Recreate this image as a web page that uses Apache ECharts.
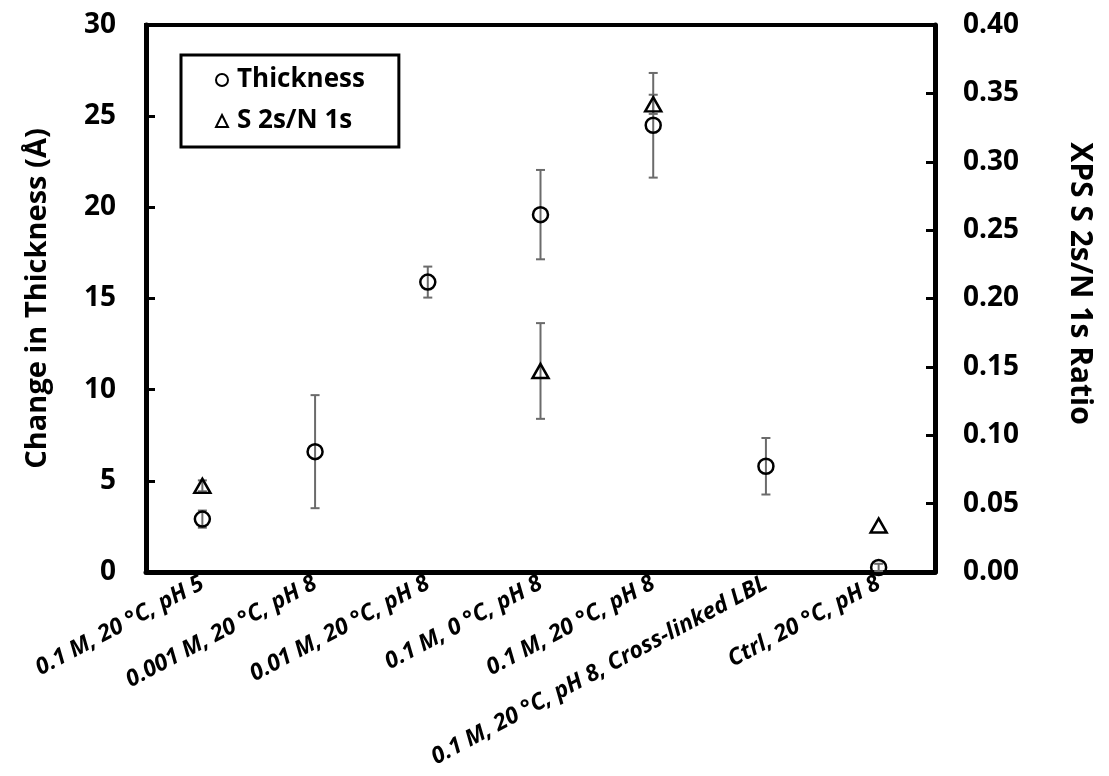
<!DOCTYPE html>
<html>
<head>
<meta charset="utf-8">
<script src="https://cdn.jsdelivr.net/npm/echarts@6/dist/echarts.min.js"></script>
<style>
  html, body { margin: 0; padding: 0; background: #fff; }
  #chart { width: 1109px; height: 776px; }
</style>
</head>
<body>
<div id="chart"></div>
<script>
// Sample conditions along the x axis
const categories = [
  '0.1 M, 20 °C, pH 5',
  '0.001 M, 20 °C, pH 8',
  '0.01 M, 20 °C, pH 8',
  '0.1 M, 0 °C, pH 8',
  '0.1 M, 20 °C, pH 8',
  '0.1 M, 20 °C, pH 8, Cross-linked LBL',
  'Ctrl, 20 °C, pH 8'
];
// Change in thickness (Å) and its error
const thickness    = [2.9, 6.6, 15.9, 19.6, 24.5, 5.8, 0.25];
const thicknessErr = [0.47, 3.1, 0.85, 2.45, 2.87, 1.55, 0.2];
// XPS S 2s / N 1s ratio and its error (null = not measured)
const ratio    = [0.063, null, null, 0.147, 0.342, null, 0.034];
const ratioErr = [0.004, null, null, 0.035, 0.007, null, 0];
// Axis tick settings
const leftTicks  = { min: 0, max: 30, interval: 5 };
const rightTicks = { min: 0, max: 0.40, interval: 0.05 };

const FONT = 'Open Sans';

function errData(vals, errs) {
  const out = [];
  vals.forEach((v, i) => {
    if (v != null && errs[i] != null && errs[i] > 0) out.push([i, v - errs[i], v + errs[i]]);
  });
  return out;
}

function errorBarSeries(data, yAxisIndex) {
  return {
    type: 'custom',
    yAxisIndex: yAxisIndex,
    data: data,
    z: 2,
    silent: true,
    encode: { x: 0, y: [1, 2] },
    renderItem: function (params, api) {
      const x = api.value(0);
      const lo = api.coord([x, api.value(1)]);
      const hi = api.coord([x, api.value(2)]);
      const cap = 4.5;
      const style = { stroke: '#6b6b6b', lineWidth: 2 };
      return {
        type: 'group',
        children: [
          { type: 'line', shape: { x1: lo[0], y1: lo[1], x2: hi[0], y2: hi[1] }, style: style },
          { type: 'line', shape: { x1: lo[0] - cap, y1: lo[1], x2: lo[0] + cap, y2: lo[1] }, style: style },
          { type: 'line', shape: { x1: hi[0] - cap, y1: hi[1], x2: hi[0] + cap, y2: hi[1] }, style: style }
        ]
      };
    }
  };
}

const chart = echarts.init(document.getElementById('chart'), null, { renderer: 'canvas' });

const axisLabelStyle = { color: '#000', fontFamily: FONT, fontWeight: 'bold', fontSize: 28 };

chart.setOption({
  animation: false,
  backgroundColor: '#fff',
  grid: {
    left: 146, right: 174, top: 25, bottom: 204,
    containLabel: false,
    outerBoundsMode: 'none',
    show: true, borderColor: '#000', borderWidth: 4, backgroundColor: 'transparent'
  },
  legend: {
    left: 181, top: 55,
    orient: 'vertical',
    backgroundColor: '#fff',
    borderColor: '#000', borderWidth: 3,
    padding: [12, 34, 13, 34],
    itemGap: 15,
    itemWidth: 12, itemHeight: 12,
    textStyle: { color: '#000', fontFamily: FONT, fontWeight: 'bold', fontSize: 26, padding: [0, 0, 0, 4] },
    data: [
      { name: 'Thickness', icon: 'circle', itemStyle: { color: 'transparent', borderColor: '#000', borderWidth: 2 } },
      { name: 'S 2s/N 1s', icon: 'triangle', itemStyle: { color: 'transparent', borderColor: '#000', borderWidth: 2 } }
    ]
  },
  xAxis: {
    type: 'category',
    data: categories,
    boundaryGap: true,
    axisLine: { lineStyle: { color: '#000', width: 5 } },
    axisTick: { inside: true, alignWithLabel: true, length: 6, lineStyle: { color: '#000', width: 2 } },
    axisLabel: {
      interval: 0, rotate: 28, margin: 10,
      color: '#000', fontFamily: FONT, fontWeight: 'bold', fontStyle: 'italic', fontSize: 23
    },
    splitLine: { show: false }
  },
  yAxis: [
    {
      type: 'value',
      min: leftTicks.min, max: leftTicks.max, interval: leftTicks.interval,
      name: 'Change in Thickness (Å)',
      nameLocation: 'middle', nameGap: 94,
      nameTextStyle: { color: '#000', fontFamily: FONT, fontWeight: 'bold', fontSize: 29 },
      axisLine: { show: true, lineStyle: { color: '#000', width: 5 } },
      axisTick: { show: true, inside: true, length: 9, lineStyle: { color: '#000', width: 3 } },
      axisLabel: Object.assign({ margin: 30 }, axisLabelStyle),
      splitLine: { show: false }
    },
    {
      type: 'value',
      min: rightTicks.min, max: rightTicks.max, interval: rightTicks.interval,
      name: 'XPS S 2s/N 1s Ratio',
      nameLocation: 'middle', nameGap: 130, nameRotate: -90,
      nameTextStyle: { color: '#000', fontFamily: FONT, fontWeight: 'bold', fontSize: 30, padding: [0, 30, 0, 0] },
      axisLine: { show: true, lineStyle: { color: '#000', width: 5 } },
      axisTick: { show: true, inside: true, length: 9, lineStyle: { color: '#000', width: 3 } },
      axisLabel: Object.assign({ margin: 28, formatter: v => v.toFixed(2) }, axisLabelStyle),
      splitLine: { show: false }
    }
  ],
  series: [
    errorBarSeries(errData(thickness, thicknessErr), 0),
    errorBarSeries(errData(ratio, ratioErr), 1),
    {
      name: 'Thickness',
      type: 'scatter',
      yAxisIndex: 0,
      symbol: 'circle',
      symbolSize: 15,
      z: 3,
      itemStyle: { color: 'transparent', borderColor: '#000', borderWidth: 2.5, opacity: 1 },
      data: thickness.map((v, i) => [i, v])
    },
    {
      name: 'S 2s/N 1s',
      type: 'scatter',
      yAxisIndex: 1,
      symbol: 'triangle',
      symbolSize: [16, 14],
      z: 3,
      itemStyle: { color: 'transparent', borderColor: '#000', borderWidth: 2.5, opacity: 1 },
      data: ratio.map((v, i) => [i, v]).filter(d => d[1] != null)
    }
  ]
});
</script>
</body>
</html>
